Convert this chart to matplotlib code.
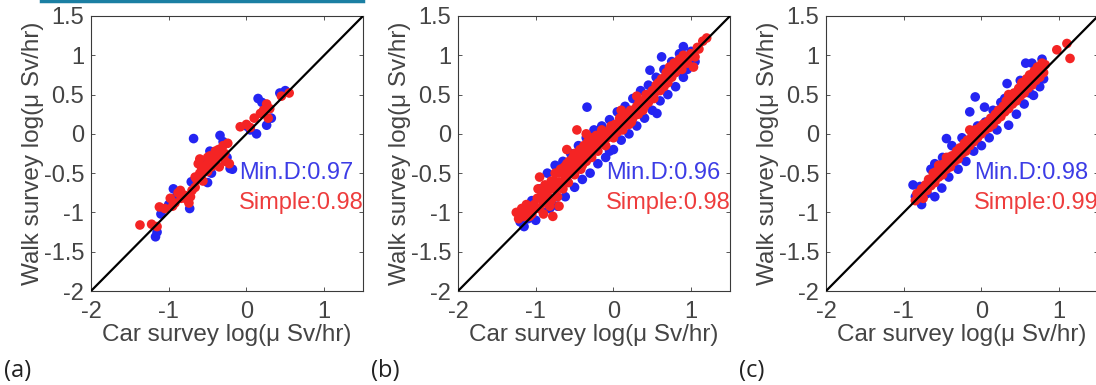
import numpy as np
import matplotlib.pyplot as plt

plt.rcParams['font.family'] = ['Liberation Sans', 'DejaVu Sans']

# panel (a)
a_blue_x = [-1.17, -1.15, -1.1, -0.94, -0.9, -0.73, -0.71, -0.68, -0.6, -0.5, -0.47, -0.4, -0.34, -0.3,
            -0.25, -0.21, -0.18, -0.45, 0.0, 0.13, 0.15, 0.2, 0.26, 0.32, 0.43, 0.5, -0.8, -1.0, -0.55, 0.05]
a_blue_y = [-1.31, -1.25, -1.02, -0.7, -0.8, -0.95, -0.61, -0.06, -0.55, -0.62, -0.22, -0.3, -0.02, -0.1,
            -0.3, -0.44, -0.45, -0.5, 0.1, 0.0, 0.45, 0.4, 0.11, 0.2, 0.52, 0.55, -0.8, -0.9, -0.35, 0.05]
a_red_x = [-1.37, -1.22, -1.15, -1.12, -1.05, -0.98, -0.92, -0.88, -0.85, -0.8, -0.77, -0.74, -0.72, -0.66,
           -0.64, -0.6, -0.62, -0.6, -0.55, -0.52, -0.5, -0.47, -0.45, -0.42, -0.4, -0.38, -0.35, -0.32,
           -0.3, -0.27, -0.24, -0.22, -0.08, 0.0, 0.05, 0.1, 0.18, 0.22, 0.26, 0.3, 0.45, 0.55, -0.56,
           -0.7, -0.95, 0.28, -0.58, -0.5, -0.44, -0.36, -0.28, -0.66, -0.84]
a_red_y = [-1.16, -1.15, -1.18, -0.93, -0.95, -0.82, -0.88, -0.75, -0.72, -0.78, -0.83, -0.88, -0.8, -0.68,
           -0.58, -0.5, -0.38, -0.32, -0.45, -0.4, -0.3, -0.28, -0.42, -0.35, -0.22, -0.3, -0.42, -0.25,
           -0.15, -0.35, -0.12, -0.38, 0.09, 0.12, 0.08, 0.2, 0.26, 0.3, 0.38, 0.32, 0.48, 0.52, -0.6,
           -0.72, -0.92, 0.2, -0.42, -0.48, -0.3, -0.2, -0.25, -0.55, -0.82]

# panel (b)
b_blue_x = [-1.2, -1.15, -1.1, -1.05, -1.0, -0.95, -0.9, -0.85, -0.82, -0.75, -0.72, -0.65, -0.62, -0.55,
            -0.5, -0.45, -0.4, -0.34, -0.35, -0.3, -0.25, -0.2, -0.15, -0.1, -0.05, 0.0, 0.05, 0.1, 0.15,
            0.2, 0.25, 0.3, 0.35, 0.4, 0.45, 0.47, 0.5, 0.56, 0.55, 0.6, 0.65, 0.7, 0.75, 0.8, 0.85, 0.9,
            0.9, 0.95, 1.0, 1.05, -0.05, 0.62]
b_blue_y = [-1.12, -1.18, -1.08, -0.85, -1.1, -0.7, -1.0, -0.5, -0.95, -0.4, -0.92, -0.35, -0.8, -0.25,
            -0.68, -0.15, -0.58, 0.34, -0.05, -0.5, 0.05, -0.38, 0.1, -0.3, 0.18, -0.2, 0.28, -0.08, 0.35,
            0.0, 0.45, 0.1, 0.55, 0.2, 0.62, 0.81, 0.3, 0.26, 0.72, 0.42, 0.82, 0.5, 0.92, 0.6, 1.02, 1.11,
            0.72, 0.82, 1.05, 0.92, -0.22, 0.98]
b_red_x = [-1.25, -1.22, -1.18, -1.15, -1.1, -1.05, -1.02, -0.98, -0.95, -0.95, -0.92, -0.9, -0.88, -0.85,
           -0.82, -0.8, -0.78, -0.78, -0.75, -0.72, -0.7, -0.68, -0.65, -0.62, -0.6, -0.58, -0.55, -0.52,
           -0.5, -0.48, -0.45, -0.42, -0.4, -0.38, -0.35, -0.32, -0.3, -0.28, -0.25, -0.22, -0.2, -0.15,
           -0.12, -0.1, -0.05, 0.0, 0.02, 0.05, 0.1, 0.12, 0.15, 0.2, 0.22, 0.25, 0.3, 0.32, 0.35, 0.4,
           0.42, 0.45, 0.5, 0.52, 0.55, 0.6, 0.62, 0.65, 0.68, 0.7, 0.72, 0.75, 0.78, 0.8, 0.85, 0.88, 0.9,
           0.95, 1.0, 1.03, 1.05, 1.1, 1.2, -0.47, -0.35, 0.3, 0.1, -0.6, -0.9, -0.7,
           -1.2, -1.12, -1.08, -1.0, -0.97, -0.9, -0.87, -0.83, -0.8, -0.76, -0.73, -0.7, -0.67, -0.63,
           -0.6, -0.57, -0.53, -0.5, -0.47, -0.43, -0.4, -0.37, -0.33, -0.3, -0.26, -0.23, -0.18, -0.15,
           -0.08, -0.03, 0.03, 0.08, 0.13, 0.18, 0.23, 0.28, 0.33, 0.38, 0.43, 0.48, 0.53, 0.58, 0.63,
           0.67, 0.73, 0.77, 0.83, 0.87, 0.93, 0.98, 1.08, 1.15]
b_red_y = [-1.0, -1.08, -0.95, -1.05, -0.98, -1.02, -0.9, -0.82, -0.55, -0.95, -0.75, -0.88, -0.65, -0.78,
           -0.92, -0.6, -0.7, -1.05, -0.5, -0.8, -0.62, -0.45, -0.7, -0.55, -0.38, -0.62, -0.45, -0.3,
           -0.52, -0.4, -0.25, -0.45, -0.3, -0.15, -0.35, -0.2, -0.05, -0.3, -0.15, -0.02, -0.22, -0.05,
           0.0, -0.15, 0.05, -0.05, 0.12, 0.02, 0.15, 0.05, 0.22, 0.12, 0.3, 0.2, 0.35, 0.25, 0.42, 0.35,
           0.5, 0.4, 0.55, 0.45, 0.62, 0.55, 0.7, 0.6, 0.78, 0.65, 0.85, 0.72, 0.9, 0.78, 0.95, 0.82, 1.0,
           0.9, 1.02, 0.85, 0.98, 1.08, 1.22, 0.05, 0.0, 0.48, 0.3, -0.2, -1.02, -0.92,
           -1.0, -0.9, -1.05, -0.95, -0.7, -0.7, -0.82, -0.68, -0.85, -0.6, -0.7, -0.5, -0.62, -0.42,
           -0.52, -0.35, -0.5, -0.25, -0.35, -0.2, -0.4, -0.25, -0.1, -0.25, -0.05, -0.18, -0.1, 0.05,
           -0.05, 0.1, 0.02, 0.2, 0.1, 0.25, 0.15, 0.3, 0.4, 0.3, 0.45, 0.5, 0.52, 0.65, 0.62,
           0.72, 0.78, 0.8, 0.88, 0.92, 0.95, 0.98, 1.1, 1.18]

# panel (c)
c_blue_x = [-0.88, -0.85, -0.79, -0.77, -0.7, -0.65, -0.6, -0.6, -0.51, -0.5, -0.45, -0.42, -0.38, -0.3,
            -0.25, -0.2, -0.15, -0.1, -0.08, -0.05, 0.0, 0.04, 0.1, 0.15, 0.2, 0.25, 0.33, 0.35, 0.4, 0.45,
            0.5, 0.55, 0.57, 0.62, 0.65, 0.67, 0.7, 0.75, 0.78, 0.8, 0.3, 0.05]
c_blue_y = [-0.65, -0.8, -0.67, -0.9, -0.76, -0.45, -0.38, -0.8, -0.69, -0.3, -0.06, -0.55, -0.15, -0.45,
            -0.05, -0.35, 0.28, -0.22, 0.47, 0.1, -0.15, 0.34, -0.05, 0.3, 0.05, 0.4, 0.64, 0.11, 0.5, 0.25,
            0.68, 0.38, 0.9, 0.52, 0.9, 0.49, 0.82, 0.6, 0.95, 0.7, 0.45, 0.15]
c_red_x = [-0.85, -0.83, -0.8, -0.77, -0.75, -0.72, -0.7, -0.68, -0.65, -0.62, -0.6, -0.58, -0.55, -0.52,
           -0.5, -0.48, -0.45, -0.42, -0.4, -0.38, -0.35, -0.32, -0.3, -0.28, -0.25, -0.22, -0.2, -0.18,
           -0.15, -0.12, -0.1, -0.08, -0.05, -0.02, 0.0, 0.02, 0.05, 0.08, 0.1, 0.12, 0.15, 0.18, 0.2, 0.22,
           0.25, 0.28, 0.3, 0.32, 0.35, 0.38, 0.4, 0.42, 0.45, 0.48, 0.5, 0.52, 0.55, 0.58, 0.6, 0.62, 0.65,
           0.68, 0.7, 0.72, 0.75, 0.78, 0.8, 0.97, 1.1, 1.14, -0.15, 0.35,
           -0.82, -0.78, -0.74, -0.7, -0.66, -0.63, -0.58, -0.54, -0.5, -0.46, -0.42, -0.37, -0.33, -0.28,
           -0.24, -0.2, -0.16, -0.12, -0.07, -0.03, 0.03, 0.07, 0.12, 0.17, 0.22, 0.27, 0.32, 0.37, 0.42,
           0.47, 0.52, 0.57, 0.62, 0.67, 0.72, 0.77, 0.82, 0.75, 0.65, 0.55, -0.55, -0.45]
c_red_y = [-0.85, -0.76, -0.8, -0.7, -0.82, -0.65, -0.72, -0.58, -0.66, -0.5, -0.62, -0.48, -0.55, -0.4,
           -0.52, -0.38, -0.45, -0.3, -0.42, -0.28, -0.35, -0.22, -0.32, -0.18, -0.25, -0.12, -0.22, -0.08,
           -0.15, -0.02, -0.1, 0.05, -0.05, 0.08, 0.0, 0.12, 0.05, 0.15, 0.08, 0.2, 0.12, 0.25, 0.18, 0.3,
           0.22, 0.35, 0.28, 0.42, 0.32, 0.48, 0.38, 0.52, 0.42, 0.58, 0.48, 0.65, 0.52, 0.7, 0.58, 0.75,
           0.62, 0.8, 0.68, 0.85, 0.72, 0.9, 0.78, 1.07, 1.15, 0.96, 0.05, 0.5,
           -0.82, -0.75, -0.72, -0.65, -0.6, -0.58, -0.55, -0.48, -0.45, -0.42, -0.38, -0.32, -0.28, -0.25,
           -0.18, -0.15, -0.12, -0.08, -0.02, 0.02, 0.05, 0.1, 0.15, 0.2, 0.25, 0.3, 0.35, 0.4, 0.45,
           0.5, 0.55, 0.62, 0.66, 0.72, 0.78, 0.82, 0.88, 0.85, 0.75, 0.62, -0.4, -0.3]

mind_scores = ['0.97', '0.96', '0.98']
simple_scores = ['0.98', '0.98', '0.99']
panel_tags = ['(a)', '(b)', '(c)']

blues = [(a_blue_x, a_blue_y), (b_blue_x, b_blue_y), (c_blue_x, c_blue_y)]
reds = [(a_red_x, a_red_y), (b_red_x, b_red_y), (c_red_x, c_red_y)]

fig = plt.figure(figsize=(10.96, 3.85), dpi=100)
# teal strip at the top left from the source page
fig.add_artist(plt.Line2D([0.037, 0.331], [0.997, 0.997], color='#1b7fa3', lw=2.5))

lefts = [91, 458, 826]
gray = '#3a3a3a'
for i in range(3):
    ax = fig.add_axes([lefts[i] / 1096, 1 - 291 / 385, 272 / 1096, 275 / 385])
    bx, by = blues[i]
    rx, ry = reds[i]
    ax.scatter(bx, by, s=48, color='#2424f2', edgecolors='none', zorder=2)
    ax.scatter(rx, ry, s=48, color='#f42424', edgecolors='none', zorder=3)
    ax.plot([-2, 1.5], [-2, 1.5], color='black', lw=1.6, zorder=4)
    ax.set_xlim(-2, 1.5)
    ax.set_ylim(-2, 1.5)
    ax.set_xticks([-2, -1, 0, 1])
    ax.set_xticklabels(['-2', '-1', '0', '1'])
    ax.set_yticks([-2, -1.5, -1, -0.5, 0, 0.5, 1, 1.5])
    ax.set_yticklabels(['-2', '-1.5', '-1', '-0.5', '0', '0.5', '1', '1.5'])
    ax.tick_params(direction='in', top=True, right=True, length=3, width=0.6,
                   labelsize=17, colors=gray, labelcolor='#444444')
    ax.tick_params(axis='x', pad=7)
    ax.tick_params(axis='y', pad=5)
    for sp in ax.spines.values():
        sp.set_color(gray)
        sp.set_linewidth(0.8)
    ax.set_xlabel('Car survey log(μ Sv/hr)', fontsize=17.5, color='#444444', labelpad=1)
    ax.set_ylabel('Walk survey log(μ Sv/hr)', fontsize=17.5, color='#444444', labelpad=0)
    ax.text(-0.1, -0.5, 'Min.D:' + mind_scores[i], color='#3c3ce6', fontsize=17, va='center', ha='left', zorder=5)
    ax.text(-0.1, -0.88, 'Simple:' + simple_scores[i], color='#ee3c3c', fontsize=17, va='center', ha='left', zorder=5)
    fig.text((lefts[i] - 87) / 1096, 1 - 371 / 385, panel_tags[i], fontsize=17, color='#222222',
             family=['Open Sans', 'DejaVu Sans'], va='center', ha='left')

fig.savefig('out.png', dpi=100)
